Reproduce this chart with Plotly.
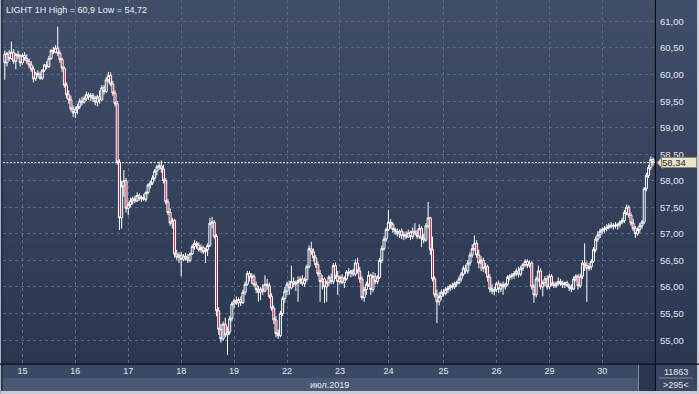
import plotly.graph_objects as go

# ---------------- DATA (hourly OHLC, LIGHT 1H) ----------------
open_ = [
    60.38, 60.22, 60.40, 60.30, 60.42, 60.25, 60.38, 60.35, 60.22, 60.36,
    60.30, 60.25, 60.18, 60.10, 59.92, 60.02, 60.00, 59.93, 60.08, 60.18,
    60.15, 60.30, 60.45, 60.42, 60.50, 60.40, 60.28, 60.12, 59.80, 59.62,
    59.52, 59.35, 59.28, 59.35, 59.40, 59.50, 59.48, 59.55, 59.62, 59.58,
    59.60, 59.55, 59.48, 59.58, 59.52, 59.75, 59.68, 59.90, 59.98, 59.82,
    59.65, 59.45, 58.35, 57.30, 57.90, 58.00, 57.48, 57.55, 57.62, 57.66,
    57.62, 57.72, 57.66, 57.68, 57.65, 57.78, 57.92, 57.96, 58.05, 58.18,
    58.26, 58.28, 58.22, 58.00, 57.60, 57.40, 57.20, 57.25, 56.62, 56.56,
    56.60, 56.52, 56.58, 56.55, 56.50, 56.62, 56.76, 56.82, 56.78, 56.70,
    56.74, 56.66, 56.70, 56.78, 57.20, 57.22, 56.95, 55.55, 55.20, 55.02,
    55.30, 55.10, 55.15, 55.40, 55.68, 55.74, 55.70, 55.76, 55.70, 55.90,
    56.05, 56.25, 56.18, 56.20, 56.04, 55.95, 55.90, 55.96, 55.92, 56.05,
    56.02, 55.82, 55.60, 55.38, 55.12, 55.08, 55.50, 55.78, 55.92, 56.05,
    55.98, 56.10, 56.05, 56.08, 56.12, 56.15, 56.06, 56.14, 56.38, 56.72,
    56.66, 56.55, 56.42, 56.25, 56.10, 56.15, 56.00, 56.08, 56.18, 56.10,
    56.40, 56.20, 56.10, 56.18, 56.08, 56.15, 56.28, 56.26, 56.30, 56.24,
    56.45, 56.30, 56.15, 55.80, 55.95, 56.05, 56.22, 55.95, 56.20, 56.10,
    56.18, 56.50, 56.72, 56.90, 57.08, 57.22, 57.18, 57.08, 57.04, 57.00,
    57.05, 56.96, 56.98, 56.94, 57.02, 56.95, 57.05, 57.00, 56.95, 57.10,
    56.92, 56.88, 57.15, 57.30, 56.70, 56.15, 55.85, 55.72, 55.82, 55.90,
    55.88, 55.95, 55.98, 56.02, 56.00, 56.06, 56.08, 56.15, 56.24, 56.35,
    56.30, 56.45, 56.60, 56.72, 56.82, 56.60, 56.45, 56.50, 56.35, 56.38,
    56.18, 55.96, 55.92, 55.95, 56.06, 55.96, 56.04, 56.00, 56.05, 56.18,
    56.20, 56.22, 56.25, 56.30, 56.24, 56.35, 56.42, 56.48, 56.40, 56.45,
    56.00, 55.85, 56.15, 56.30, 56.00, 56.08, 56.15, 56.00, 56.20, 56.05,
    56.02, 56.06, 56.10, 56.06, 56.04, 56.08, 56.02, 55.98, 55.96, 56.15,
    56.20, 56.02, 56.20, 56.45, 56.40, 56.35, 56.38, 56.48, 56.70, 56.90,
    56.98, 57.05, 57.08, 57.10, 57.12, 57.16, 57.14, 57.16, 57.15, 57.18,
    57.22, 57.25, 57.40, 57.50, 57.35, 57.20, 57.10, 57.00, 57.08, 57.15,
    57.22, 57.85, 58.10, 58.25, 58.40,
]
high = [
    60.45, 60.42, 60.46, 60.62, 60.48, 60.40, 60.45, 60.38, 60.40, 60.42,
    60.38, 60.30, 60.25, 60.15, 60.05, 60.08, 60.05, 60.10, 60.20, 60.25,
    60.35, 60.48, 60.52, 60.55, 60.90, 60.45, 60.32, 60.15, 59.85, 59.70,
    59.60, 59.42, 59.40, 59.45, 59.55, 59.58, 59.60, 59.68, 59.66, 59.65,
    59.65, 59.60, 59.62, 59.70, 59.80, 59.80, 59.95, 60.05, 60.04, 59.88,
    59.70, 59.50, 58.40, 58.00, 58.20, 58.05, 57.60, 57.68, 57.70, 57.72,
    57.78, 57.76, 57.72, 57.75, 57.80, 57.95, 58.00, 58.10, 58.22, 58.30,
    58.36, 58.38, 58.30, 58.05, 57.65, 57.48, 57.30, 57.28, 56.70, 56.65,
    56.66, 56.62, 56.64, 56.62, 56.65, 56.80, 56.88, 56.86, 56.84, 56.80,
    56.78, 56.74, 56.82, 57.30, 57.32, 57.26, 57.00, 55.62, 55.30, 55.35,
    55.42, 55.25, 55.45, 55.72, 55.78, 55.82, 55.80, 55.82, 55.95, 56.10,
    56.30, 56.30, 56.26, 56.24, 56.10, 56.02, 56.00, 56.05, 56.22, 56.15,
    56.08, 55.88, 55.65, 55.45, 55.20, 55.55, 55.82, 56.00, 56.10, 56.12,
    56.40, 56.18, 56.12, 56.20, 56.20, 56.22, 56.18, 56.42, 56.78, 56.85,
    56.72, 56.60, 56.48, 56.32, 56.22, 56.18, 56.12, 56.22, 56.25, 56.45,
    56.46, 56.30, 56.22, 56.24, 56.20, 56.32, 56.35, 56.32, 56.34, 56.52,
    56.55, 56.38, 56.20, 56.00, 56.10, 56.30, 56.25, 56.28, 56.26, 56.22,
    56.55, 56.78, 56.95, 57.12, 57.45, 57.28, 57.22, 57.12, 57.10, 57.08,
    57.10, 57.04, 57.05, 57.08, 57.06, 57.12, 57.20, 57.08, 57.18, 57.14,
    57.00, 57.20, 57.60, 57.32, 56.95, 56.20, 55.95, 55.90, 55.95, 55.96,
    56.00, 56.02, 56.05, 56.08, 56.10, 56.12, 56.20, 56.28, 56.40, 56.42,
    56.50, 56.65, 56.80, 56.97, 56.88, 56.70, 56.58, 56.55, 56.45, 56.42,
    56.24, 56.05, 56.00, 56.10, 56.12, 56.08, 56.10, 56.08, 56.22, 56.24,
    56.26, 56.30, 56.35, 56.38, 56.40, 56.45, 56.52, 56.52, 56.50, 56.48,
    56.05, 56.20, 56.40, 56.35, 56.12, 56.20, 56.22, 56.25, 56.24, 56.10,
    56.10, 56.18, 56.15, 56.12, 56.10, 56.12, 56.06, 56.05, 56.20, 56.24,
    56.24, 56.25, 56.50, 56.82, 56.48, 56.45, 56.52, 56.75, 56.95, 57.05,
    57.10, 57.12, 57.15, 57.18, 57.20, 57.22, 57.20, 57.22, 57.20, 57.25,
    57.30, 57.45, 57.55, 57.54, 57.40, 57.28, 57.15, 57.12, 57.20, 57.26,
    57.88, 58.15, 58.30, 58.46, 58.44,
]
low = [
    59.90, 60.15, 60.25, 60.28, 60.20, 60.10, 60.30, 60.15, 60.18, 60.26,
    60.20, 60.12, 60.05, 59.85, 59.88, 59.95, 59.90, 59.90, 60.05, 60.10,
    60.12, 60.28, 60.38, 60.40, 60.35, 60.22, 60.05, 59.75, 59.55, 59.45,
    59.30, 59.20, 59.18, 59.25, 59.35, 59.42, 59.45, 59.50, 59.52, 59.50,
    59.48, 59.42, 59.40, 59.45, 59.50, 59.62, 59.65, 59.85, 59.78, 59.60,
    59.40, 58.30, 57.07, 57.10, 57.70, 57.40, 57.35, 57.50, 57.55, 57.58,
    57.60, 57.62, 57.60, 57.62, 57.60, 57.74, 57.85, 57.92, 58.00, 58.10,
    58.20, 58.15, 57.95, 57.55, 57.35, 57.15, 57.10, 56.55, 56.50, 56.45,
    56.20, 56.48, 56.50, 56.45, 56.46, 56.60, 56.70, 56.72, 56.66, 56.64,
    56.62, 56.45, 56.58, 56.75, 57.10, 56.90, 55.45, 55.10, 54.95, 54.98,
    55.05, 54.72, 55.10, 55.35, 55.60, 55.66, 55.62, 55.64, 55.68, 55.85,
    56.02, 56.10, 56.05, 56.00, 55.88, 55.72, 55.75, 55.85, 55.90, 55.95,
    55.78, 55.55, 55.30, 55.05, 55.02, 55.05, 55.45, 55.70, 55.85, 55.85,
    55.95, 56.00, 55.92, 55.72, 56.05, 56.02, 56.00, 56.10, 56.35, 56.60,
    56.48, 56.36, 56.20, 55.72, 55.95, 55.70, 55.72, 56.02, 56.05, 56.05,
    56.15, 55.85, 56.05, 56.05, 55.98, 56.12, 56.20, 56.18, 56.20, 56.20,
    56.25, 56.08, 55.75, 55.72, 55.85, 56.00, 55.85, 55.90, 56.05, 56.05,
    56.15, 56.45, 56.68, 56.85, 57.05, 57.10, 57.02, 56.98, 56.95, 56.92,
    56.90, 56.88, 56.90, 56.92, 56.88, 56.90, 56.98, 56.90, 56.90, 56.75,
    56.82, 56.85, 57.10, 56.60, 56.10, 55.80, 55.32, 55.65, 55.75, 55.82,
    55.84, 55.88, 55.92, 55.95, 55.96, 56.00, 56.05, 56.10, 56.20, 56.25,
    56.25, 56.40, 56.55, 56.68, 56.55, 56.35, 56.30, 56.28, 56.25, 56.10,
    55.90, 55.86, 55.84, 55.90, 55.88, 55.90, 55.85, 55.95, 56.02, 56.12,
    56.14, 56.15, 56.20, 56.18, 56.20, 56.30, 56.38, 56.35, 56.36, 55.95,
    55.70, 55.80, 56.10, 55.95, 55.82, 56.02, 55.95, 55.96, 56.02, 55.98,
    55.98, 56.02, 56.02, 55.98, 55.98, 56.00, 55.92, 55.90, 55.94, 56.10,
    55.95, 55.98, 56.15, 56.30, 55.72, 56.30, 56.32, 56.45, 56.65, 56.85,
    56.92, 57.00, 57.02, 57.05, 57.08, 57.10, 57.08, 57.10, 57.08, 57.12,
    57.18, 57.20, 57.35, 57.30, 57.15, 57.05, 56.92, 56.96, 57.02, 57.10,
    57.18, 57.80, 58.05, 58.20, 58.28,
]
close = [
    60.22, 60.40, 60.30, 60.42, 60.25, 60.38, 60.35, 60.22, 60.36, 60.30,
    60.25, 60.18, 60.10, 59.92, 60.02, 60.00, 59.93, 60.08, 60.18, 60.15,
    60.30, 60.45, 60.42, 60.50, 60.40, 60.28, 60.12, 59.80, 59.62, 59.52,
    59.35, 59.28, 59.35, 59.40, 59.50, 59.48, 59.55, 59.62, 59.58, 59.60,
    59.55, 59.48, 59.58, 59.52, 59.75, 59.68, 59.90, 59.98, 59.82, 59.65,
    59.45, 58.35, 57.30, 57.90, 58.00, 57.48, 57.55, 57.62, 57.66, 57.62,
    57.72, 57.66, 57.68, 57.65, 57.78, 57.92, 57.96, 58.05, 58.18, 58.26,
    58.28, 58.22, 58.00, 57.60, 57.40, 57.20, 57.25, 56.62, 56.56, 56.60,
    56.52, 56.58, 56.55, 56.50, 56.62, 56.76, 56.82, 56.78, 56.70, 56.74,
    56.66, 56.70, 56.78, 57.20, 57.22, 56.95, 55.55, 55.20, 55.02, 55.30,
    55.10, 55.15, 55.40, 55.68, 55.74, 55.70, 55.76, 55.70, 55.90, 56.05,
    56.25, 56.18, 56.20, 56.04, 55.95, 55.90, 55.96, 55.92, 56.05, 56.02,
    55.82, 55.60, 55.38, 55.12, 55.08, 55.50, 55.78, 55.92, 56.05, 55.98,
    56.10, 56.05, 56.08, 56.12, 56.15, 56.06, 56.14, 56.38, 56.72, 56.66,
    56.55, 56.42, 56.25, 56.10, 56.15, 56.00, 56.08, 56.18, 56.10, 56.40,
    56.20, 56.10, 56.18, 56.08, 56.15, 56.28, 56.26, 56.30, 56.24, 56.45,
    56.30, 56.15, 55.80, 55.95, 56.05, 56.22, 55.95, 56.20, 56.10, 56.18,
    56.50, 56.72, 56.90, 57.08, 57.22, 57.18, 57.08, 57.04, 57.00, 57.05,
    56.96, 56.98, 56.94, 57.02, 56.95, 57.05, 57.00, 56.95, 57.10, 56.92,
    56.88, 57.15, 57.30, 56.70, 56.15, 55.85, 55.72, 55.82, 55.90, 55.88,
    55.95, 55.98, 56.02, 56.00, 56.06, 56.08, 56.15, 56.24, 56.35, 56.30,
    56.45, 56.60, 56.72, 56.82, 56.60, 56.45, 56.50, 56.35, 56.38, 56.18,
    55.96, 55.92, 55.95, 56.06, 55.96, 56.04, 56.00, 56.05, 56.18, 56.20,
    56.22, 56.25, 56.30, 56.24, 56.35, 56.42, 56.48, 56.40, 56.45, 56.00,
    55.85, 56.15, 56.30, 56.00, 56.08, 56.15, 56.00, 56.20, 56.05, 56.02,
    56.06, 56.10, 56.06, 56.04, 56.08, 56.02, 55.98, 55.96, 56.15, 56.20,
    56.02, 56.20, 56.45, 56.40, 56.35, 56.38, 56.48, 56.70, 56.90, 56.98,
    57.05, 57.08, 57.10, 57.12, 57.16, 57.14, 57.16, 57.15, 57.18, 57.22,
    57.25, 57.40, 57.50, 57.35, 57.20, 57.10, 57.00, 57.08, 57.15, 57.22,
    57.85, 58.10, 58.25, 58.40, 58.34,
]
assert len(open_) == len(high) == len(low) == len(close) == 295

# first bar of each trading day and its label
day_start_bar = [8, 32, 56, 80, 104, 128, 152, 174, 199, 223, 247, 271]
day_labels = ["15", "16", "17", "18", "19", "22", "23", "24", "25", "26", "29", "30"]
price_ticks = [55.0, 55.5, 56.0, 56.5, 57.0, 57.5, 58.0, 58.5, 59.0, 59.5, 60.0, 60.5, 61.0]
month_label = "июл.2019"
volume_text = "11863"
bars_text = ">295<"

# ---------------- STYLE / LAYOUT ----------------
W, H = 699, 394
def px(x):
    return x / W
def py(y):
    return 1 - y / H

def fmt(v):
    return f"{v:.2f}".replace(".", ",")

PLOT_L, PLOT_R, PLOT_B = 3, 655, 364
bar_x = list(range(len(close)))

fig = go.Figure()
fig.add_trace(go.Candlestick(
    x=bar_x, open=open_, high=high, low=low, close=close,
    increasing=dict(line=dict(color="#ffffff", width=1), fillcolor="#35425d"),
    decreasing=dict(line=dict(color="#ffffff", width=1), fillcolor="#c0203f"),
    whiskerwidth=0, hoverinfo="skip", showlegend=False,
))

shapes = []
# vertical gradient background (top lighter -> bottom darker)
top_c = (65, 78, 104)
bot_c = (43, 55, 82)
N = 46
for k in range(N):
    t = k / (N - 1)
    c = tuple(round(top_c[j] + (bot_c[j] - top_c[j]) * t) for j in range(3))
    y0 = PLOT_B * k / N
    y1 = PLOT_B * (k + 1) / N + 0.6
    shapes.append(dict(type="rect", xref="paper", yref="paper", layer="below",
                       x0=0, x1=1, y0=py(y1), y1=py(y0),
                       fillcolor="rgb(%d,%d,%d)" % c, line=dict(width=0)))

def rect(x0, y0, x1, y1, color, layer="below"):
    shapes.append(dict(type="rect", xref="paper", yref="paper", layer=layer,
                       x0=px(x0), x1=px(x1), y0=py(y1), y1=py(y0),
                       fillcolor=color, line=dict(width=0)))

# bottom axis strip
rect(0, PLOT_B, 655, 378, "#3c4964")
rect(0, 378, 638, 391, "#4b5873")
rect(638, PLOT_B, 655, 391, "#2b3650")
rect(638, PLOT_B, 639, 391, "#7e889c")
rect(655, PLOT_B, 699, 391, "#3a4661")
rect(659, 377.5, 693, 378.5, "#7d879b")
# window borders
rect(0, 391, 699, 394, "#c7ccd4", "above")
rect(0, 0, 1.3, 394, "#aab2c0", "above")
rect(1.3, 0, 2.6, 391, "#1b2234", "above")
rect(697, 0, 699, 394, "#c7ccd4", "above")
# black separators
rect(0, PLOT_B - 0.5, 699, PLOT_B + 0.7, "#0c0f18", "above")
rect(PLOT_R - 0.2, 0, PLOT_R + 1.0, 391, "#0c0f18", "above")

last = close[-1]
# last price dashed line
shapes.append(dict(type="line", xref="paper", yref="y", layer="above",
                   x0=px(PLOT_L), x1=px(PLOT_R), y0=last, y1=last,
                   line=dict(color="#ffffff", width=1, dash="2px,1.5px")))
# notch of the last-price tag
shapes.append(dict(type="path", xref="paper", yref="y", layer="above",
                   xsizemode="pixel", ysizemode="pixel",
                   xanchor=px(657), yanchor=last,
                   path="M 0,0 L 5,5.5 L 6,5.5 L 6,-5.5 L 5,-5.5 Z",
                   fillcolor="#e8e6cb", line=dict(color="#8a8a78", width=1)))

font = "Liberation Sans, Arial, sans-serif"
txt = "#e3e6ec"
annotations = [
    dict(xref="paper", yref="paper", x=px(4), y=py(9.5), xanchor="left", yanchor="middle",
         text="LIGHT 1H High = %s Low = %s" % (f"{max(high):g}".replace(".", ","),
                                               f"{min(low):g}".replace(".", ",")),
         showarrow=False, font=dict(family=font, size=9, color="#eceef2")),
]
# price scale labels on the right
for p in price_ticks:
    annotations.append(dict(xref="paper", yref="y", x=px(657.5), y=p, xanchor="left",
                            yanchor="middle", text=fmt(p), showarrow=False,
                            font=dict(family=font, size=9.5, color=txt)))
# last-price tag box (drawn after the scale labels so it covers them)
annotations.append(dict(xref="paper", yref="y", x=px(661), y=last, xanchor="left",
                        yanchor="middle", text=fmt(last), showarrow=False,
                        width=34, height=9, align="left", borderpad=0,
                        bgcolor="#e8e6cb", bordercolor="#8a8a78", borderwidth=1,
                        font=dict(family=font, size=9.5, color="#1c1c1c")))
annotations += [
    dict(xref="paper", yref="paper", x=px(329.5), y=py(385), xanchor="center", yanchor="middle",
         text=month_label, showarrow=False, font=dict(family=font, size=9, color=txt)),
    dict(xref="paper", yref="paper", x=px(676), y=py(371.5), xanchor="center", yanchor="middle",
         text=volume_text, showarrow=False, font=dict(family=font, size=9, color=txt)),
    dict(xref="paper", yref="paper", x=px(676), y=py(385), xanchor="center", yanchor="middle",
         text=bars_text.replace("<", "&lt;").replace(">", "&gt;"), showarrow=False,
         font=dict(family=font, size=9, color=txt)),
]

# axis ranges from pixel geometry of the reference
x_first_px, x_step = 4.8, 2.2048
y55_px, px_per_unit = 340.0, 53.1
x_range = [(PLOT_L - x_first_px) / x_step, (PLOT_R - x_first_px) / x_step]
y_range = [55 - (PLOT_B - y55_px) / px_per_unit, 55 + y55_px / px_per_unit]

grid_c = "#5b6884"
fig.update_layout(
    width=W, height=H, margin=dict(l=0, r=0, t=0, b=0, pad=0),
    paper_bgcolor="#34415c", plot_bgcolor="rgba(0,0,0,0)",
    separators=", ", boxgap=0.1, boxgroupgap=0, showlegend=False,
    shapes=shapes, annotations=annotations,
    xaxis=dict(domain=[px(PLOT_L), px(PLOT_R)], range=x_range,
               rangeslider=dict(visible=False),
               tickmode="array", tickvals=day_start_bar, ticktext=day_labels,
               showgrid=True, gridcolor=grid_c, gridwidth=1, griddash="3px,3px",
               zeroline=False, showline=False, ticks="", fixedrange=True,
               tickfont=dict(family=font, size=9, color=txt)),
    yaxis=dict(domain=[py(PLOT_B), 1], range=y_range, side="right",
               tickmode="array", tickvals=price_ticks, showticklabels=False,
               showgrid=True, gridcolor=grid_c, gridwidth=1, griddash="3px,3px",
               zeroline=False, showline=False, ticks="", fixedrange=True),
)

fig.write_html("out.html", config={"displayModeBar": False})
